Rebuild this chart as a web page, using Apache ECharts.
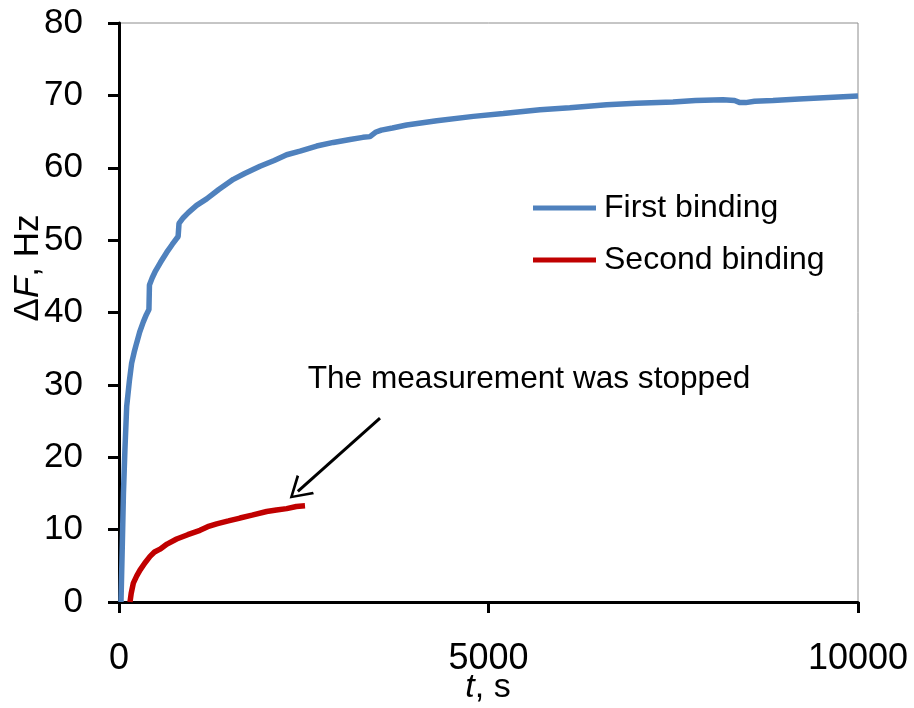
<!DOCTYPE html>
<html>
<head>
<meta charset="utf-8">
<script src="https://cdn.jsdelivr.net/npm/echarts@6/dist/echarts.min.js"></script>
<style>html,body{margin:0;padding:0;background:#fff;}#c{width:914px;height:708px;}</style>
</head>
<body>
<div id="c"></div>
<script>
// Data
const firstT = [27, 45, 60, 80, 104, 140, 171, 205, 239, 280, 329, 370, 405, 412, 450, 487, 560, 645, 720, 800, 812, 870, 938, 1050, 1186, 1350, 1547, 1700, 1908, 2100, 2269, 2450, 2675, 2900, 3126, 3300, 3396, 3470, 3550, 3700, 3893, 4300, 4795, 5200, 5697, 6100, 6599, 7000, 7497, 7800, 8173, 8330, 8403, 8480, 8600, 8850, 9200, 9600, 10000];
const firstF = [0, 8, 15, 21, 27, 30.5, 33, 34.5, 35.8, 37.3, 38.7, 39.7, 40.4, 43.8, 44.8, 45.6, 46.9, 48.3, 49.4, 50.5, 52.3, 53.1, 53.8, 54.8, 55.7, 57.0, 58.4, 59.2, 60.2, 61.0, 61.8, 62.3, 63.0, 63.5, 63.9, 64.2, 64.3, 64.9, 65.2, 65.5, 65.9, 66.5, 67.1, 67.5, 68.0, 68.3, 68.7, 68.9, 69.1, 69.3, 69.4, 69.3, 69.0, 69.0, 69.2, 69.3, 69.5, 69.7, 69.9];
const secondT = [149, 165, 194, 240, 284, 350, 420, 480, 555, 650, 780, 930, 1096, 1200, 1322, 1480, 1637, 1800, 1998, 2130, 2269, 2400, 2517];
const secondF = [0, 1.2, 2.6, 3.6, 4.4, 5.4, 6.3, 6.9, 7.3, 8.0, 8.7, 9.3, 9.9, 10.4, 10.8, 11.2, 11.6, 12.0, 12.5, 12.7, 12.9, 13.2, 13.3];
const xTicks = [0, 5000, 10000];
const yTicks = [0, 10, 20, 30, 40, 50, 60, 70, 80];
const seriesNames = ['First binding', 'Second binding'];
const annotationText = 'The measurement was stopped';
const arrowFrom = [3532, 25.4];
const arrowTo = [2420, 15.3];

const zip = (a, b) => a.map((v, i) => [v, b[i]]);
const FONT = '"Liberation Sans", Arial, sans-serif';

const chart = echarts.init(document.getElementById('c'), null, {renderer: 'canvas'});
chart.setOption({
  animation: false,
  backgroundColor: '#fff',
  grid: {left: 119, right: 56, top: 23, bottom: 106, show: true, borderColor: '#8c8c8c', borderWidth: 1, outerBoundsMode: 'none', containLabel: false},
  legend: {
    orient: 'vertical', left: 533, top: 192, itemGap: 20, padding: 0,
    icon: 'rect', itemWidth: 63, itemHeight: 5,
    textStyle: {fontFamily: FONT, fontSize: 32, color: '#000', lineHeight: 32, padding: [0, 0, 0, 3]},
    data: seriesNames
  },
  xAxis: {
    type: 'value', min: xTicks[0], max: xTicks[xTicks.length - 1], interval: xTicks[1] - xTicks[0],
    splitLine: {show: false},
    axisLine: {show: true, lineStyle: {color: '#000', width: 3}},
    axisTick: {show: true, inside: false, length: 11, lineStyle: {color: '#000', width: 3}},
    axisLabel: {fontFamily: FONT, fontSize: 36, color: '#000', margin: 39, formatter: v => String(v)}
  },
  yAxis: {
    type: 'value', min: yTicks[0], max: yTicks[yTicks.length - 1], interval: yTicks[1] - yTicks[0],
    splitLine: {show: false},
    axisLine: {show: true, lineStyle: {color: '#000', width: 3}},
    axisTick: {show: true, inside: false, length: 11, lineStyle: {color: '#000', width: 3}},
    axisLabel: {fontFamily: FONT, fontSize: 35, color: '#000', margin: 36, formatter: v => String(v)}
  },
  graphic: [
    {
      type: 'text', x: 28, y: 268, rotation: Math.PI / 2,
      style: {
        text: '{n|Δ}{i|F}{n|, Hz}', align: 'center', verticalAlign: 'middle',
        rich: {i: {fontFamily: FONT, fontSize: 35, fontStyle: 'italic', fill: '#000'}, n: {fontFamily: FONT, fontSize: 35, fill: '#000'}}
      }
    },
    {
      type: 'text', x: 488, y: 688,
      style: {
        text: '{i|t}{n|, s}', align: 'center', verticalAlign: 'middle',
        rich: {i: {fontFamily: FONT, fontSize: 34, fontStyle: 'italic', fill: '#000'}, n: {fontFamily: FONT, fontSize: 34, fill: '#000'}}
      }
    },
    {
      type: 'text', x: 529, y: 379,
      style: {text: annotationText, align: 'center', verticalAlign: 'middle', font: '31.6px ' + FONT, fill: '#000'}
    }
  ],
  series: [
    {
      name: seriesNames[0], type: 'line', data: zip(firstT, firstF), showSymbol: false, symbol: 'none',
      lineStyle: {color: '#4F81BD', width: 5.5}, itemStyle: {color: '#4F81BD'}
    },
    {
      name: seriesNames[1], type: 'line', data: zip(secondT, secondF), showSymbol: false, symbol: 'none',
      lineStyle: {color: '#C00000', width: 5.5}, itemStyle: {color: '#C00000'},
      markLine: {
        silent: true, animation: false,
        symbol: ['none', 'path://M0,14 L7,0 L14,14 L12.6,14.7 L7,3.2 L1.4,14.7 Z'],
        symbolSize: [26, 22],
        lineStyle: {color: '#000', width: 3, type: 'solid'},
        itemStyle: {color: '#000'},
        label: {show: false},
        data: [[{coord: arrowFrom}, {coord: arrowTo}]]
      }
    }
  ]
});
</script>
</body>
</html>
